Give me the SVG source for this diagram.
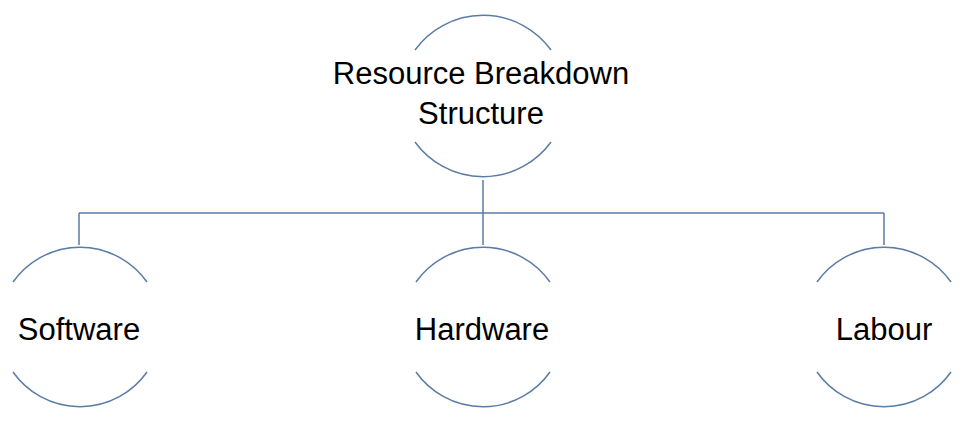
<svg xmlns="http://www.w3.org/2000/svg" width="966" height="432" viewBox="0 0 966 432">
<style>
.arc{fill:none;stroke:#5b7ca6;stroke-width:1.5}
.c{fill:none;stroke:#5b7ca6;stroke-width:1.5}
text{font-family:"Liberation Sans",Arial,sans-serif;font-size:31px;fill:#000;text-anchor:middle}
</style>
<rect width="966" height="432" fill="#fff"/>
<g id="connectors">
<path class="c" d="M483 180V213M79 213H884M79 213V245M483 213V245M884 213V245"/>
</g>
<g id="root">
<path class="arc" d="M415 50A84 84 0 0 1 551 50"/>
<path class="arc" d="M415 142A84 84 0 0 0 551 142"/>
<text x="481" y="84">Resource Breakdown</text>
<text x="481" y="124">Structure</text>
</g>
<g id="software">
<path class="arc" d="M13 282A82 82 0 0 1 147 282"/>
<path class="arc" d="M13 372A82 82 0 0 0 147 372"/>
<text x="79" y="340">Software</text>
</g>
<g id="hardware">
<path class="arc" d="M416 282A82 82 0 0 1 550 282"/>
<path class="arc" d="M416 372A82 82 0 0 0 550 372"/>
<text x="482" y="340">Hardware</text>
</g>
<g id="labour">
<path class="arc" d="M817 282A82 82 0 0 1 951 282"/>
<path class="arc" d="M817 372A82 82 0 0 0 951 372"/>
<text x="884" y="340">Labour</text>
</g>
</svg>
